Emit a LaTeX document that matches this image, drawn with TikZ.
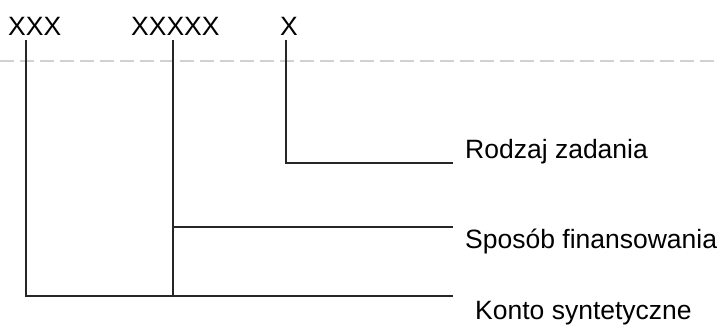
\documentclass[tikz,border=0pt]{standalone}
\usepackage{fontspec}
\setmainfont{Liberation Sans}
\begin{document}
\begin{tikzpicture}[x=1pt,y=-1pt,
  lbl/.style={anchor=base west,inner sep=0pt,font=\fontsize{26.5}{30}\selectfont},
  conn/.style={line width=1.4pt,color=black!85},
  scan/.style={line width=1.2pt,color=black!18,dash pattern=on 14pt off 6pt}]
\useasboundingbox (0,0) rectangle (719,327);
% faint scanned guide line
\coordinate (g1) at (0,61);
\coordinate (g2) at (719,61);
\draw[scan] (g1) -- (g2);
% top labels
\node[lbl] (xxx) at (8,35) {XXX};
\node[lbl] (xxxxx) at (131,35) {XXXXX};
\node[lbl] (x) at (280,35) {X};
% right labels
\node[lbl] (rodzaj) at (465,158) {Rodzaj zadania};
\node[lbl] (sposob) at (465,248) {Sposób finansowania};
\node[lbl] (konto) at (475,319) {Konto syntetyczne};
% corner coordinates
\coordinate (a0) at (26,40);
\coordinate (a1) at (26,296);
\coordinate (a2) at (453,296);
\coordinate (b0) at (173,40);
\coordinate (b1) at (173,296);
\coordinate (b2) at (173,227);
\coordinate (b3) at (453,227);
\coordinate (c0) at (286,40);
\coordinate (c1) at (286,163);
\coordinate (c2) at (453,163);
% connectors
\draw[conn] (a0) -- (a1) -- (a2);
\draw[conn] (b0) -- (b1);
\draw[conn] (b2) -- (b3);
\draw[conn] (c0) -- (c1) -- (c2);
\end{tikzpicture}
\end{document}
